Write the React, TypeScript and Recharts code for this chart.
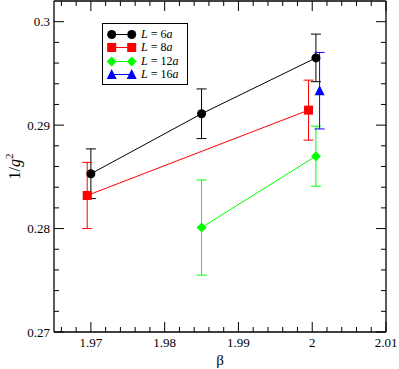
import React from 'react';
import { ScatterChart, Scatter, XAxis, YAxis, ErrorBar, Legend } from 'recharts';

const FONT = '"Liberation Serif", "Times New Roman", serif';

// Axis ticks
const xMajorTicks = [1.97, 1.98, 1.99, 2.0, 2.01];
const xMinorTicks = [1.966, 1.968, 1.972, 1.974, 1.976, 1.978, 1.982, 1.984, 1.986, 1.988, 1.992, 1.994, 1.996, 1.998, 2.002, 2.004, 2.006, 2.008];
const yMajorTicks = [0.27, 0.28, 0.29, 0.3];
const yMinorTicks = [0.272, 0.274, 0.276, 0.278, 0.282, 0.284, 0.286, 0.288, 0.292, 0.294, 0.296, 0.298];

// Series data: beta, 1/g^2, error
const l6Beta = [1.97, 1.985, 2.0005];
const l6Inv = [0.2853, 0.2911, 0.2965];
const l6Err = [0.0024, 0.0024, 0.0023];

const l8Beta = [1.9695, 1.9995];
const l8Inv = [0.2832, 0.29145];
const l8Err = [0.0032, 0.0029];

const l12Beta = [1.985, 2.0005];
const l12Inv = [0.2801, 0.2870];
const l12Err = [0.0046, 0.0029];

const l16Beta = [2.001];
const l16Inv = [0.29333];
const l16Err = [0.0037];

const seriesSizes = ['6', '8', '12', '16'];
const seriesColors = ['#000000', '#ff0000', '#00ff00', '#0000ff'];
const seriesShapes = ['circle', 'square', 'diamond', 'triangle'];

const build = (b: number[], v: number[], e: number[]) => b.map((x, i) => ({ x, y: v[i], err: e[i] }));
const seriesData = [
  build(l6Beta, l6Inv, l6Err),
  build(l8Beta, l8Inv, l8Err),
  build(l12Beta, l12Inv, l12Err),
  build(l16Beta, l16Inv, l16Err),
];

const allX = [...xMajorTicks, ...xMinorTicks].sort((a, b) => a - b);
const allY = [...yMajorTicks, ...yMinorTicks].sort((a, b) => a - b);
const isMajor = (list: number[], v: number) => list.some((m) => Math.abs(m - v) < 1e-7);
const fmt = (v: number) => String(Number(v.toFixed(4)));

const Marker = ({ kind, cx, cy, color }: { kind: string; cx: number; cy: number; color: string }) => {
  if (cx == null || cy == null) return null;
  if (kind === 'circle') return <circle cx={cx} cy={cy} r={4.5} fill={color} />;
  if (kind === 'square') return <rect x={cx - 4.5} y={cy - 4.5} width={9} height={9} fill={color} />;
  if (kind === 'diamond')
    return <polygon points={`${cx},${cy - 5} ${cx + 5},${cy} ${cx},${cy + 5} ${cx - 5},${cy}`} fill={color} />;
  return <polygon points={`${cx},${cy - 5.5} ${cx + 5},${cy + 4.5} ${cx - 5},${cy + 4.5}`} fill={color} />;
};

const XTick = (props: any) => {
  const { x, y, payload, side } = props;
  const v = payload.value;
  const major = isMajor(xMajorTicks, v);
  const len = major ? 10 : 5;
  const dir = side === 'top' ? 1 : -1;
  return (
    <g>
      <line x1={x} x2={x} y1={y} y2={y + dir * len} stroke="#000" strokeWidth={1} />
      {major && side !== 'top' && (
        <text x={x} y={y + 15} textAnchor="middle" fontFamily={FONT} fontSize={13} fill="#000">
          {fmt(v)}
        </text>
      )}
    </g>
  );
};

const YTick = (props: any) => {
  const { x, y, payload, side } = props;
  const v = payload.value;
  const major = isMajor(yMajorTicks, v);
  const len = major ? 10 : 5;
  const dir = side === 'right' ? -1 : 1;
  return (
    <g>
      <line x1={x} x2={x + dir * len} y1={y} y2={y} stroke="#000" strokeWidth={1} />
      {major && side !== 'right' && (
        <text x={x - 4} y={y + 4.5} textAnchor="end" fontFamily={FONT} fontSize={13} fill="#000">
          {fmt(v)}
        </text>
      )}
    </g>
  );
};

const LegendBox = () => (
  <div
    style={{
      border: '1px solid #000',
      background: '#fff',
      boxSizing: 'border-box',
      width: 86,
      height: 62,
      paddingTop: 4,
      fontFamily: FONT,
      fontSize: 12,
      color: '#000',
    }}
  >
    {seriesSizes.map((s, i) => (
      <div key={s} style={{ display: 'flex', alignItems: 'center', height: 13.33 }}>
        <svg width={38} height={13} style={{ display: 'block' }}>
          <line x1={8.7} x2={28.7} y1={6.5} y2={6.5} stroke={seriesColors[i]} strokeWidth={1} />
          <Marker kind={seriesShapes[i]} cx={8.7} cy={6.5} color={seriesColors[i]} />
          <Marker kind={seriesShapes[i]} cx={28.7} cy={6.5} color={seriesColors[i]} />
        </svg>
        <span style={{ whiteSpace: 'nowrap', lineHeight: '13px' }}>
          <i>L</i> = {s}
          <i>a</i>
        </span>
      </div>
    ))}
  </div>
);

export default function App() {
  return (
    <div style={{ position: 'absolute', left: 0, top: 0, background: '#fff' }}>
      <ScatterChart width={399} height={369} margin={{ top: 0, right: 12, bottom: 36, left: 53 }}>
        <XAxis
          type="number"
          dataKey="x"
          domain={[1.965, 2.01]}
          allowDataOverflow
          ticks={allX}
          interval={0}
          height={1}
          tickSize={0}
          tickMargin={0}
          tickLine={false}
          axisLine={{ stroke: '#000', strokeWidth: 1.3 }}
          tick={(p: any) => <XTick {...p} side="bottom" />}
          label={{
            content: (p: any) => {
              const vb = p.viewBox || {};
              return (
                <text x={vb.x + vb.width / 2} y={vb.y + 33} textAnchor="middle" fontFamily={FONT} fontSize={15} fill="#000">
                  β
                </text>
              );
            },
          }}
        />
        <XAxis
          xAxisId="top"
          orientation="top"
          type="number"
          dataKey="x"
          domain={[1.965, 2.01]}
          allowDataOverflow
          ticks={allX}
          interval={0}
          height={1}
          tickSize={0}
          tickMargin={0}
          tickLine={false}
          axisLine={{ stroke: '#000', strokeWidth: 1.3 }}
          tick={(p: any) => <XTick {...p} side="top" />}
        />
        <YAxis
          type="number"
          dataKey="y"
          domain={[0.27, 0.302]}
          allowDataOverflow
          ticks={allY}
          interval={0}
          width={1}
          tickSize={0}
          tickMargin={0}
          tickLine={false}
          axisLine={{ stroke: '#000', strokeWidth: 1.3 }}
          tick={(p: any) => <YTick {...p} side="left" />}
          label={{
            content: (p: any) => {
              const vb = p.viewBox || {};
              const cx = vb.x + vb.width - 34;
              const cy = vb.y + vb.height / 2;
              return (
                <text
                  transform={`translate(${cx},${cy}) rotate(-90)`}
                  textAnchor="middle"
                  fontFamily={FONT}
                  fontSize={16}
                  fill="#000"
                >
                  <tspan>1/</tspan>
                  <tspan fontStyle="italic">g</tspan>
                  <tspan dy={-7} fontSize={11}>2</tspan>
                </text>
              );
            },
          }}
        />
        <YAxis
          yAxisId="right"
          orientation="right"
          type="number"
          dataKey="y"
          domain={[0.27, 0.302]}
          allowDataOverflow
          ticks={allY}
          interval={0}
          width={1}
          tickSize={0}
          tickMargin={0}
          tickLine={false}
          axisLine={{ stroke: '#000', strokeWidth: 1.3 }}
          tick={(p: any) => <YTick {...p} side="right" />}
        />
        {seriesData.map((d, i) => (
          <Scatter
            key={seriesSizes[i]}
            name={`L = ${seriesSizes[i]}a`}
            data={d}
            fill={seriesColors[i]}
            line={{ stroke: seriesColors[i], strokeWidth: 1 }}
            lineType="joint"
            isAnimationActive={false}
            shape={(p: any) => <Marker kind={seriesShapes[i]} cx={p.cx} cy={p.cy} color={seriesColors[i]} />}
          >
            <ErrorBar dataKey="err" direction="y" width={5} stroke={seriesColors[i]} strokeWidth={1} />
          </Scatter>
        ))}
        <Legend
          layout="vertical"
          align="center"
          verticalAlign="middle"
          wrapperStyle={{ left: 102, top: 23, width: 86, height: 62 }}
          content={() => <LegendBox />}
        />
      </ScatterChart>
    </div>
  );
}
